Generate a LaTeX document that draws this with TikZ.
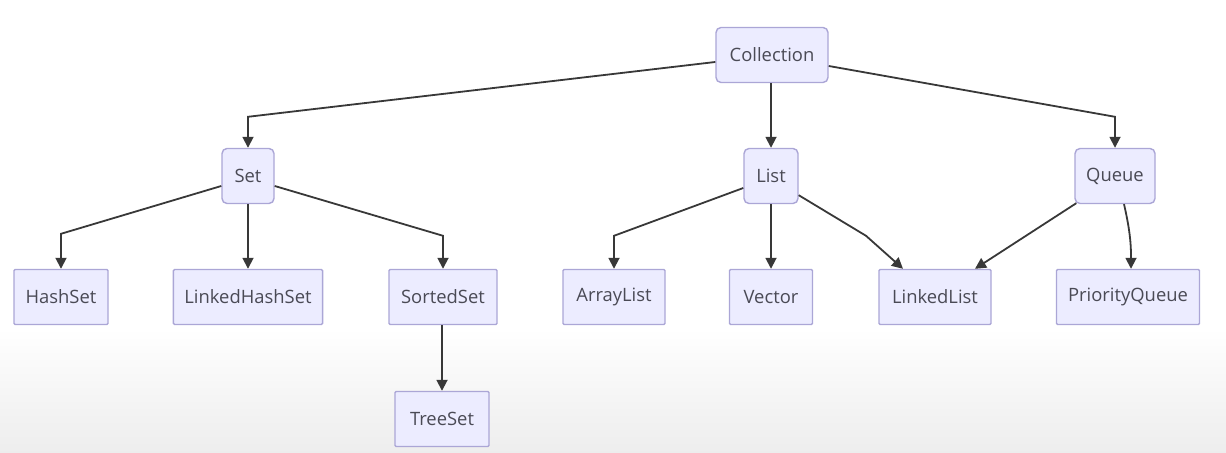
\documentclass[tikz,border=0pt]{standalone}
\usepackage{fontspec}
\setmainfont{Open Sans}
\usetikzlibrary{arrows.meta,calc}
\definecolor{mm-fill}{HTML}{ECECFF}
\definecolor{mm-edge}{HTML}{ABA6D6}
\definecolor{mm-ink}{HTML}{4A4A55}
\definecolor{mm-line}{HTML}{383838}
\begin{document}
\begin{tikzpicture}[
  x=0.5pt,y=0.5pt,font=\fontsize{9.2}{11}\selectfont,
  grp/.style={draw=mm-edge,line width=0.7pt,fill=mm-fill,rounded corners=2.5pt,
              minimum height=27.5pt,inner xsep=5.5pt,text=mm-ink},
  leaf/.style={draw=mm-edge,line width=0.7pt,fill=mm-fill,rounded corners=0.6pt,
               minimum height=27.5pt,inner xsep=5.5pt,text=mm-ink},
  ar/.style={-{Triangle[length=5.5pt,width=5.5pt]},mm-line,line width=0.9pt}
]
\useasboundingbox (0,0) rectangle (1226,453);
\shade[top color=white,bottom color=black!7] (0,0) rectangle (1226,125);

\node[grp,minimum width=56pt] (coll) at (772,398) {Collection};
\node[grp,minimum width=26pt] (set)   at (248,277) {Set};
\node[grp,minimum width=27pt] (list)  at (771,277) {List};
\node[grp,minimum width=40pt] (queue) at (1115,277) {Queue};

\node[leaf,minimum width=47pt]   (hs)  at (61,156)   {HashSet};
\node[leaf,minimum width=74.5pt] (lhs) at (248,156)  {LinkedHashSet};
\node[leaf,minimum width=54pt]   (ss)  at (443,156)  {SortedSet};
\node[leaf,minimum width=51pt]   (al)  at (614,156)  {ArrayList};
\node[leaf,minimum width=41.5pt] (vec) at (771,156)  {Vector};
\node[leaf,minimum width=56pt]   (ll)  at (935,156)  {LinkedList};
\node[leaf,minimum width=71.5pt] (pq)  at (1128,156) {PriorityQueue};
\node[leaf,minimum width=47pt]   (ts)  at (442,34)   {TreeSet};

% Collection
\draw[ar] ($(coll.west)+(0,-7)$) -- ($(set.north)+(0,31)$) -- (set.north);
\draw[ar] (coll.south -| list) -- (list.north);
\draw[ar] ($(coll.east)+(0,-11)$) -- ($(queue.north)+(0,31)$) -- (queue.north);

% Set
\draw[ar] ($(set.west)+(0,-10)$) -- ($(hs.north)+(0,35)$) -- (hs.north);
\draw[ar] (set.south) -- (lhs.north);
\draw[ar] ($(set.east)+(0,-10)$) -- ($(ss.north)+(0,33)$) -- (ss.north);
\draw[ar] (ss.south -| ts) -- (ts.north);

% List
\draw[ar] ($(list.west)+(0,-12)$) -- ($(al.north)+(0,33)$) -- (al.north);
\draw[ar] (list.south) -- (vec.north);
\draw[ar] ($(list.south east)+(0,9)$) -- ($(ll.north)+(-69,33)$) -- ($(ll.north)+(-32,0)$);

% Queue
\draw[ar] ($(queue.south west)+(2,1)$) -- ($(ll.north)+(40,0)$);
\draw[ar] ($(queue.south)+(9,0)$) .. controls ($(queue.south)+(16,-30)$) and ($(pq.north)+(3,20)$) .. ($(pq.north)+(3,0)$);
\end{tikzpicture}
\end{document}
